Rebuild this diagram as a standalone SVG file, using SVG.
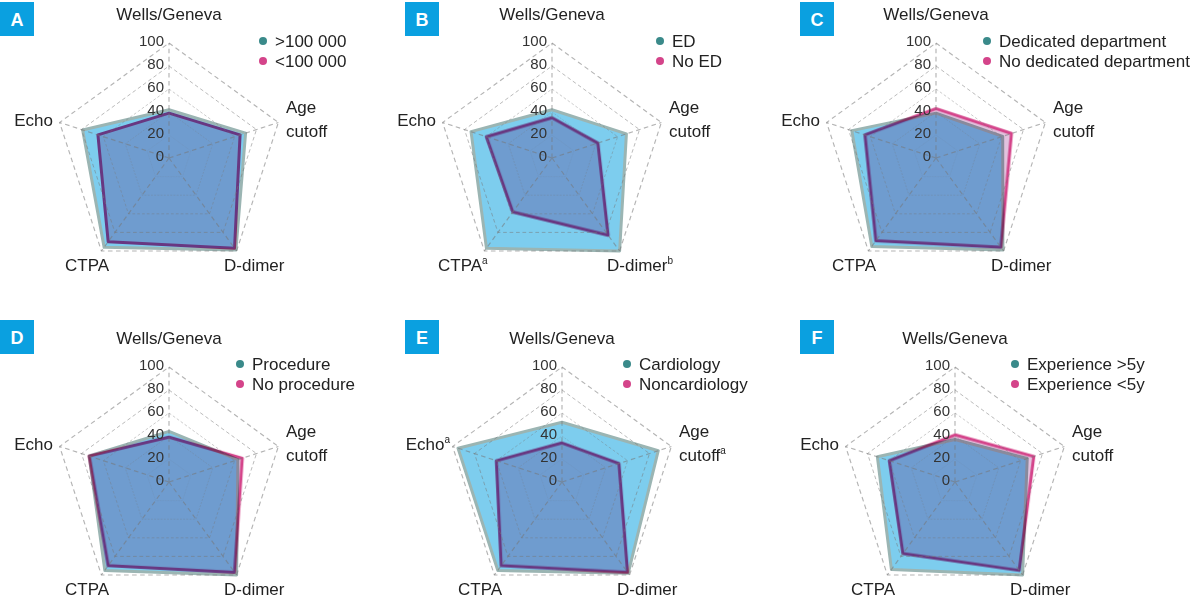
<svg xmlns="http://www.w3.org/2000/svg" xmlns:xlink="http://www.w3.org/1999/xlink" width="1198" height="602" viewBox="0 0 1198 602">
<style>
text{font-family:"Liberation Sans",Arial,sans-serif;fill:#222;}
.ax{font-size:17px;}
.num{font-size:15px;fill:#333;text-anchor:end;}
.lg{font-size:17px;}
.tag{font-size:18px;font-weight:bold;fill:#fff;text-anchor:middle;}
.box{fill:#0aa0e0;}
.s1{fill:#7dcdee;stroke:#9bb5b3;stroke-width:3;stroke-linejoin:round;vector-effect:non-scaling-stroke;}
.s2{fill:#e2c2de;stroke:#d4448a;stroke-width:3;stroke-linejoin:round;mix-blend-mode:multiply;vector-effect:non-scaling-stroke;}
.grid{fill:none;stroke:#777;stroke-opacity:0.55;stroke-width:1;stroke-dasharray:4 3;vector-effect:non-scaling-stroke;}
.d1{fill:#3a8a8a;} .d2{fill:#d4448a;}
</style>
<defs>
<polygon id="pent" points="0,-100 95.11,-30.9 58.78,80.9 -58.78,80.9 -95.11,-30.9"/>
<g id="grid" class="grid">
<use xlink:href="#pent" transform="scale(0.2)"/>
<use xlink:href="#pent" transform="scale(0.4)"/>
<use xlink:href="#pent" transform="scale(0.6)"/>
<use xlink:href="#pent" transform="scale(0.8)"/>
<use xlink:href="#pent"/>
<path d="M0,0L0,-100M0,0L95.11,-30.9M0,0L58.78,80.9M0,0L-58.78,80.9M0,0L-95.11,-30.9"/>
</g>
<g id="nums">
<text class="num" x="-5" y="-112">100</text>
<text class="num" x="-5" y="-89">80</text>
<text class="num" x="-5" y="-66">60</text>
<text class="num" x="-5" y="-43">40</text>
<text class="num" x="-5" y="-20">20</text>
<text class="num" x="-5" y="3">0</text>
</g>
</defs>
<rect width="1198" height="602" fill="#fff"/>

<g id="panelA" transform="translate(169,158)">
<g transform="scale(1.15)">
<polygon class="s1" points="0,-42 66.6,-21.6 58.2,80.1 -56.4,77.7 -75.1,-24.4"/>
<polygon class="s2" points="0,-39 61.8,-20.1 57.0,78.5 -52.9,72.8 -61.8,-20.1"/>
<use xlink:href="#grid"/>
</g>
<use xlink:href="#nums"/>
<text class="ax" x="0" y="-138" text-anchor="middle">Wells/Geneva</text>
<text class="ax" x="117" y="-45">Age</text><text class="ax" x="117" y="-21">cutoff</text>
<text class="ax" x="55" y="113">D-dimer</text>
<text class="ax" x="-104" y="113">CTPA</text>
<text class="ax" x="-116" y="-32" text-anchor="end">Echo</text>
<circle class="d1" cx="94" cy="-117" r="4"/><text class="lg" x="106" y="-111">&gt;100 000</text>
<circle class="d2" cx="94" cy="-97" r="4"/><text class="lg" x="106" y="-91">&lt;100 000</text>
</g>
<g id="tagA"><rect class="box" x="0" y="2" width="34" height="34"/><text class="tag" x="17" y="26">A</text></g>

<g id="panelB" transform="translate(552,158)">
<g transform="scale(1.15)">
<polygon class="s1" points="0,-42 64.7,-21.0 58.8,80.9 -57.0,78.5 -70.4,-22.9"/>
<polygon class="s2" points="0,-35 39.9,-13.0 48.8,67.1 -34.1,46.9 -57.1,-18.5"/>
<use xlink:href="#grid"/>
</g>
<use xlink:href="#nums"/>
<text class="ax" x="0" y="-138" text-anchor="middle">Wells/Geneva</text>
<text class="ax" x="117" y="-45">Age</text><text class="ax" x="117" y="-21">cutoff</text>
<text class="ax" x="55" y="113">D-dimer<tspan font-size="10" dy="-7">b</tspan></text>
<text class="ax" x="-114" y="113">CTPA<tspan font-size="10" dy="-7">a</tspan></text>
<text class="ax" x="-116" y="-32" text-anchor="end">Echo</text>
<circle class="d1" cx="108" cy="-117" r="4"/><text class="lg" x="120" y="-111">ED</text>
<circle class="d2" cx="108" cy="-97" r="4"/><text class="lg" x="120" y="-91">No ED</text>
</g>
<g id="tagB"><rect class="box" x="405" y="2" width="34" height="34"/><text class="tag" x="422" y="26">B</text></g>

<g id="panelC" transform="translate(936,158)">
<g transform="scale(1.15)">
<polygon class="s1" points="0,-39 58.0,-18.8 58.2,80.1 -55.8,76.9 -73.2,-23.8"/>
<polygon class="s2" points="0,-43 65.6,-21.3 56.4,77.7 -52.3,72.0 -61.8,-20.1"/>
<use xlink:href="#grid"/>
</g>
<use xlink:href="#nums"/>
<text class="ax" x="0" y="-138" text-anchor="middle">Wells/Geneva</text>
<text class="ax" x="117" y="-45">Age</text><text class="ax" x="117" y="-21">cutoff</text>
<text class="ax" x="55" y="113">D-dimer</text>
<text class="ax" x="-104" y="113">CTPA</text>
<text class="ax" x="-116" y="-32" text-anchor="end">Echo</text>
<circle class="d1" cx="51" cy="-117" r="4"/><text class="lg" x="63" y="-111">Dedicated department</text>
<circle class="d2" cx="51" cy="-97" r="4"/><text class="lg" x="63" y="-91">No dedicated department</text>
</g>
<g id="tagC"><rect class="box" x="800" y="2" width="34" height="34"/><text class="tag" x="817" y="26">C</text></g>

<g id="panelD" transform="translate(169,482)">
<g transform="scale(1.15)">
<polygon class="s1" points="0,-44 59.9,-19.5 58.8,80.9 -55.8,76.9 -69.4,-22.6"/>
<polygon class="s2" points="0,-39 63.7,-20.7 57.0,78.5 -52.9,72.8 -69.4,-22.6"/>
<use xlink:href="#grid"/>
</g>
<use xlink:href="#nums"/>
<text class="ax" x="0" y="-138" text-anchor="middle">Wells/Geneva</text>
<text class="ax" x="117" y="-45">Age</text><text class="ax" x="117" y="-21">cutoff</text>
<text class="ax" x="55" y="113">D-dimer</text>
<text class="ax" x="-104" y="113">CTPA</text>
<text class="ax" x="-116" y="-32" text-anchor="end">Echo</text>
<circle class="d1" cx="71" cy="-118" r="4"/><text class="lg" x="83" y="-112">Procedure</text>
<circle class="d2" cx="71" cy="-98" r="4"/><text class="lg" x="83" y="-92">No procedure</text>
</g>
<g id="tagD"><rect class="box" x="0" y="320" width="34" height="34"/><text class="tag" x="17" y="344">D</text></g>

<g id="panelE" transform="translate(562,482)">
<g transform="scale(1.15)">
<polygon class="s1" points="0,-52 83.7,-27.2 57.6,79.3 -55.8,76.9 -90.4,-29.4"/>
<polygon class="s2" points="0,-34 49.5,-16.1 57.0,78.5 -52.9,72.8 -57.1,-18.5"/>
<use xlink:href="#grid"/>
</g>
<use xlink:href="#nums"/>
<text class="ax" x="0" y="-138" text-anchor="middle">Wells/Geneva</text>
<text class="ax" x="117" y="-45">Age</text><text class="ax" x="117" y="-21">cutoff<tspan font-size="10" dy="-7">a</tspan></text>
<text class="ax" x="55" y="113">D-dimer</text>
<text class="ax" x="-104" y="113">CTPA</text>
<text class="ax" x="-112" y="-32" text-anchor="end">Echo<tspan font-size="10" dy="-7">a</tspan></text>
<circle class="d1" cx="65" cy="-118" r="4"/><text class="lg" x="77" y="-112">Cardiology</text>
<circle class="d2" cx="65" cy="-98" r="4"/><text class="lg" x="77" y="-92">Noncardiology</text>
</g>
<g id="tagE"><rect class="box" x="405" y="320" width="34" height="34"/><text class="tag" x="422" y="344">E</text></g>

<g id="panelF" transform="translate(955,482)">
<g transform="scale(1.15)">
<polygon class="s1" points="0,-37 62.8,-20.4 58.8,80.9 -55.3,76.0 -67.5,-21.9"/>
<polygon class="s2" points="0,-41 68.5,-22.2 55.8,76.9 -45.3,62.3 -57.1,-18.5"/>
<use xlink:href="#grid"/>
</g>
<use xlink:href="#nums"/>
<text class="ax" x="0" y="-138" text-anchor="middle">Wells/Geneva</text>
<text class="ax" x="117" y="-45">Age</text><text class="ax" x="117" y="-21">cutoff</text>
<text class="ax" x="55" y="113">D-dimer</text>
<text class="ax" x="-104" y="113">CTPA</text>
<text class="ax" x="-116" y="-32" text-anchor="end">Echo</text>
<circle class="d1" cx="60" cy="-118" r="4"/><text class="lg" x="72" y="-112">Experience &gt;5y</text>
<circle class="d2" cx="60" cy="-98" r="4"/><text class="lg" x="72" y="-92">Experience &lt;5y</text>
</g>
<g id="tagF"><rect class="box" x="800" y="320" width="34" height="34"/><text class="tag" x="817" y="344">F</text></g>
<g id="connectors"/>
</svg>
